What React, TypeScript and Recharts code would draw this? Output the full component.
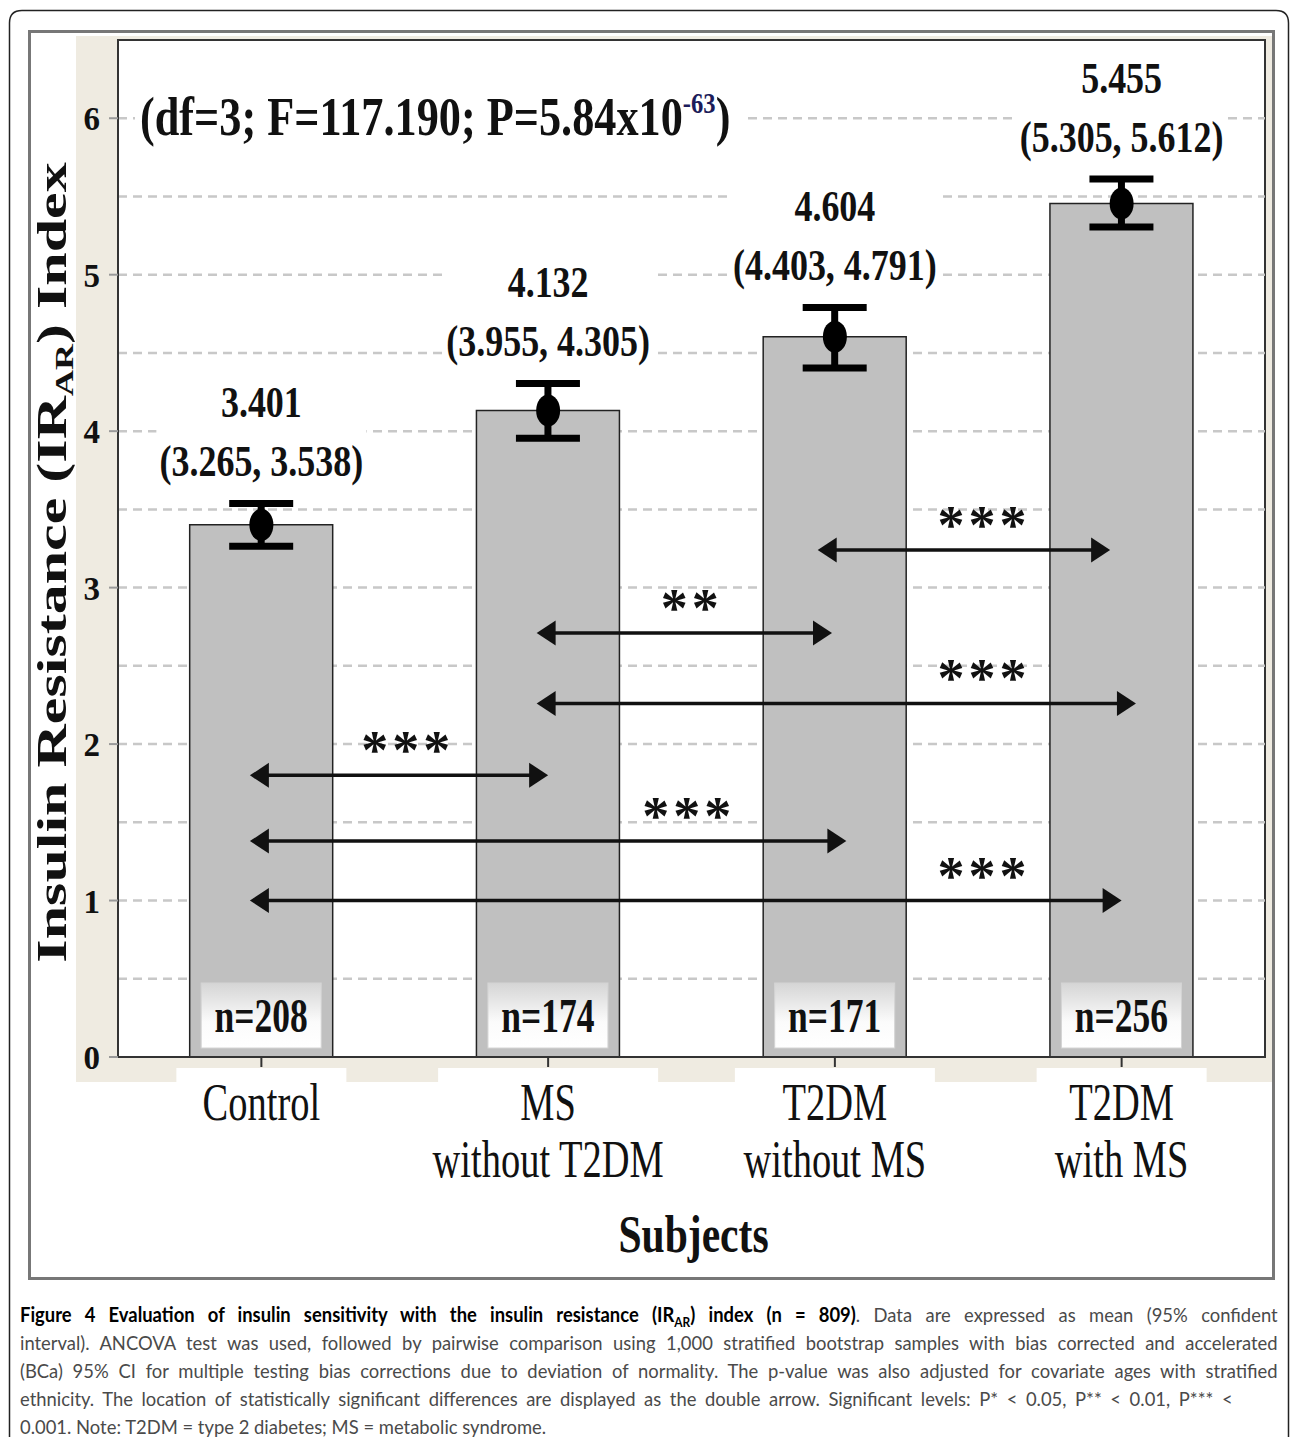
import React from "react";
import {
  Bar,
  CartesianGrid,
  ComposedChart,
  ErrorBar,
  Label,
  LabelList,
  ReferenceDot,
  ReferenceLine,
  Scatter,
  XAxis,
  YAxis,
} from "recharts";

const SERIF = '"Liberation Serif", "Times New Roman", serif';

const categories = ["Control", "MS without T2DM", "T2DM without MS", "T2DM with MS"];
const categoryLines = [["Control"], ["MS", "without T2DM"], ["T2DM", "without MS"], ["T2DM", "with MS"]];
const means = [3.401, 4.132, 4.604, 5.455];
const ciLow = [3.265, 3.955, 4.403, 5.305];
const ciHigh = [3.538, 4.305, 4.791, 5.612];
const sampleSizes = [208, 174, 171, 256];

const yTicks = [0, 1, 2, 3, 4, 5, 6];
const gridValues = [0.5, 1, 1.5, 2, 2.5, 3, 3.5, 4, 4.5, 5, 5.5, 6];

// pairwise comparisons, on a hidden numeric x scale where category i sits at i
const compFrom = [-0.04, -0.04, -0.04, 0.96, 0.96, 1.94];
const compTo = [1.0, 2.04, 3.0, 1.99, 3.05, 2.96];
const compLevel = [1.8, 1.38, 1.0, 2.71, 2.26, 3.24];
const compStarsAt = [0.5, 1.48, 2.51, 1.49, 2.51, 2.51];
const compSig = ["***", "***", "***", "**", "***", "***"];

const data = categories.map((name, i) => ({
  name,
  pos: i,
  mean: means[i],
  lo: ciLow[i],
  hi: ciHigh[i],
  err: [means[i] - ciLow[i], ciHigh[i] - means[i]],
  n: sampleSizes[i],
}));

function SqText({ x, y, size, sx = 0.8, weight = "bold", anchor = "middle", fill = "#111", children }: any) {
  return (
    <text
      transform={`translate(${x},${y}) scale(${sx},1)`}
      textAnchor={anchor}
      fontFamily={SERIF}
      fontSize={size}
      fontWeight={weight}
      fill={fill}
    >
      {children}
    </text>
  );
}

const YTick = (p: any) => (
  <text x={p.x} y={p.y} dy={12} textAnchor="end" fontFamily={SERIF} fontSize={33} fontWeight="bold" fill="#111">
    {p.payload.value}
  </text>
);

const XTick = (p: any) => {
  const idx = p.index ?? p.payload?.index ?? 0;
  const lines = categoryLines[idx] ?? [String(p.payload.value)];
  const longest = Math.max(...lines.map((l) => l.length));
  const bw = 100 + longest * 10;
  return (
    <g>
      <rect x={p.x - bw / 2} y={p.y + 1} width={bw} height={14} fill="#fff" />
      {lines.map((l, i) => (
        <SqText key={i} x={p.x} y={p.y + 53 + i * 57} size={52} sx={0.74} weight="normal">
          {l}
        </SqText>
      ))}
    </g>
  );
};

const YTitle = (props: any) => {
  const { x, y, height } = props.viewBox;
  return (
    <text
      transform={`translate(${x + 48},${y + height / 2 + 14}) scale(0.72,1) rotate(-90)`}
      textAnchor="middle"
      fontFamily={SERIF}
      fontSize={60}
      fontWeight="bold"
      fill="#111"
    >
      Insulin Resistance (IR
      <tspan fontSize={36} dy={10}>
        AR
      </tspan>
      <tspan dy={-10}>) Index</tspan>
    </text>
  );
};

const XTitle = (props: any) => {
  const { x, y, width } = props.viewBox;
  return (
    <SqText x={x + width / 2 + 2} y={y + 195} size={52} sx={0.8}>
      Subjects
    </SqText>
  );
};

const Marker = (p: any) => <ellipse cx={p.cx} cy={p.cy} rx={12} ry={16} fill="#000" />;

const CiLabel = (p: any) => {
  const d = p.payload;
  return (
    <g>
      <rect x={p.cx - 105} y={p.cy - 122} width={210} height={100} fill="#fff" />
      <SqText x={p.cx} y={p.cy - 86} size={45} sx={0.8}>
        {d.mean.toFixed(3)}
      </SqText>
      <SqText x={p.cx} y={p.cy - 27} size={45} sx={0.8}>
        {`(${d.lo.toFixed(3)}, ${d.hi.toFixed(3)})`}
      </SqText>
    </g>
  );
};

const NBox = (p: any) => {
  const cx = p.x + p.width / 2;
  const bottom = p.y + p.height;
  return (
    <g>
      <rect x={cx - 60} y={bottom - 74} width={120} height={65} fill="url(#nboxGrad)" stroke="#d4d4d4" />
      <SqText x={cx} y={bottom - 25} size={48} sx={0.74}>
        {`n=${p.value}`}
      </SqText>
    </g>
  );
};

const ArrowShape = (p: any) => {
  const { x1, x2, y1 } = p;
  const h = 19;
  const w = 12.5;
  return (
    <g>
      <line x1={x1 + h - 2} x2={x2 - h + 2} y1={y1} y2={y1} stroke="#111" strokeWidth={3.5} />
      <polygon points={`${x1},${y1} ${x1 + h},${y1 - w} ${x1 + h},${y1 + w}`} fill="#111" />
      <polygon points={`${x2},${y1} ${x2 - h},${y1 - w} ${x2 - h},${y1 + w}`} fill="#111" />
    </g>
  );
};

const starShape = (sig: string) => (p: any) => (
  <text
    x={p.cx + 3}
    y={p.cy - 7}
    textAnchor="middle"
    fontFamily={SERIF}
    fontSize={54}
    fontWeight="bold"
    letterSpacing={4}
    fill="#111"
  >
    {sig}
  </text>
);

function Chart() {
  return (
    <ComposedChart
      width={1290}
      height={1290}
      data={data}
      margin={{ top: 40, right: 25, bottom: 100, left: 18 }}
      barCategoryGap="25%"
    >
      <CartesianGrid vertical={false} horizontalValues={gridValues} stroke="#c8c8c8" strokeDasharray="9 6" strokeWidth={2.5} />
      <XAxis
        dataKey="name"
        interval={0}
        height={133}
        axisLine={{ stroke: "#333", strokeWidth: 2 }}
        tickLine={{ stroke: "#333", strokeWidth: 2 }}
        tickSize={10}
        tickMargin={0}
        tick={XTick}
      >
        <Label content={XTitle} />
      </XAxis>
      <XAxis xAxisId="num" dataKey="pos" type="number" domain={[-0.5, 3.5]} allowDataOverflow hide />
      <YAxis
        domain={[0, 6.5]}
        ticks={yTicks}
        allowDataOverflow
        width={100}
        axisLine={{ stroke: "#333", strokeWidth: 2 }}
        tickLine={{ stroke: "#999", strokeWidth: 2 }}
        tickSize={9}
        tickMargin={9}
        tick={YTick}
      >
        <Label content={YTitle} />
      </YAxis>
      <Bar dataKey="mean" fill="#c0c0c0" stroke="#222" strokeWidth={1.5} isAnimationActive={false}>
        <ErrorBar dataKey="err" direction="y" width={32} strokeWidth={7} stroke="#000" isAnimationActive={false} />
        <LabelList dataKey="n" content={NBox} />
      </Bar>
      <Scatter dataKey="mean" shape={Marker} isAnimationActive={false} />
      <Scatter dataKey="hi" shape={CiLabel} isAnimationActive={false} />
      {compLevel.map((lvl, i) => (
        <ReferenceLine
          key={`arrow-${i}`}
          xAxisId="num"
          segment={[
            { x: compFrom[i], y: lvl },
            { x: compTo[i], y: lvl },
          ]}
          ifOverflow="visible"
          shape={ArrowShape}
        />
      ))}
      {compLevel.map((lvl, i) => (
        <ReferenceDot
          key={`sig-${i}`}
          xAxisId="num"
          x={compStarsAt[i]}
          y={lvl}
          ifOverflow="visible"
          shape={starShape(compSig[i])}
        />
      ))}
    </ComposedChart>
  );
}

const justify: React.CSSProperties = { textAlign: "justify", textAlignLast: "justify" };

export default function App() {
  return (
    <div style={{ position: "relative", width: 1290, height: 1437, background: "#fff" }}>
      <style>{`body{margin:0;overflow:hidden}`}</style>
      <svg width={1290} height={1437} style={{ position: "absolute", left: 0, top: 0 }}>
        <defs>
          <linearGradient id="nboxGrad" x1="0" y1="0" x2="0" y2="1">
            <stop offset="0" stopColor="#d5d5d5" />
            <stop offset="0.6" stopColor="#fbfbfb" />
            <stop offset="1" stopColor="#ffffff" />
          </linearGradient>
        </defs>
        <path
          d="M9.5,1437 L9.5,23 Q9.5,10.5 22,10.5 L1276,10.5 Q1288.5,10.5 1288.5,23 L1288.5,1437"
          fill="none"
          stroke="#222"
          strokeWidth={1.5}
        />
        <rect x={29.5} y={31.5} width={1244} height={1247} fill="#fff" stroke="#777" strokeWidth={3} />
        <rect x={76} y={36} width={1196} height={1046} fill="#efebe1" />
        <rect x={118} y={40} width={1147} height={1017} fill="#fff" stroke="#333" strokeWidth={2} />
      </svg>
      <div style={{ position: "absolute", left: 0, top: 0 }}>
        <Chart />
      </div>
      <svg width={1290} height={200} style={{ position: "absolute", left: 0, top: 0, pointerEvents: "none" }}>
        <rect x={135} y={84} width={612} height={66} fill="#fff" />
        <SqText x={140} y={135} anchor="start" size={54} sx={0.82}>
          (df=3; F=117.190; P=5.84x10
          <tspan dy={-22} fontSize={30} fill="#1c1c5a">
            -63
          </tspan>
          <tspan dy={22}>)</tspan>
        </SqText>
      </svg>
      <div
        style={{
          position: "absolute",
          left: 20,
          top: 1300,
          width: 1367,
          transform: "scale(0.92,1)",
          transformOrigin: "0 0",
          fontFamily: "Lato, sans-serif",
          fontSize: 20,
          lineHeight: "28px",
          color: "#4a4a4a",
        }}
      >
        <div style={justify}>
          <b style={{ color: "#000" }}>
            Figure 4 Evaluation of insulin sensitivity with the insulin resistance (IR
            <sub style={{ fontSize: 13, lineHeight: 0 }}>AR</sub>) index (n = 809)
          </b>
          . Data are expressed as mean (95% confident
        </div>
        <div style={justify}>
          interval). ANCOVA test was used, followed by pairwise comparison using 1,000 stratified bootstrap samples with bias corrected and accelerated
        </div>
        <div style={justify}>
          (BCa) 95% CI for multiple testing bias corrections due to deviation of normality. The p-value was also adjusted for covariate ages with stratified
        </div>
        <div style={{ ...justify, width: 1318 }}>
          ethnicity. The location of statistically significant differences are displayed as the double arrow. Significant levels: P* &lt; 0.05, P** &lt; 0.01, P*** &lt;
        </div>
        <div>0.001. Note: T2DM = type 2 diabetes; MS = metabolic syndrome.</div>
      </div>
    </div>
  );
}
